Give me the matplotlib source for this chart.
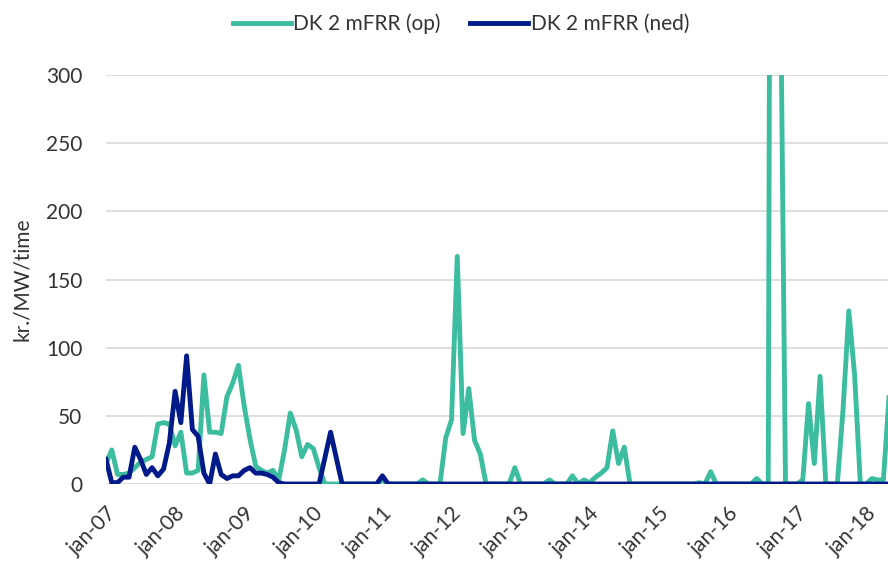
import numpy as np
import matplotlib
matplotlib.use("Agg")
import matplotlib.pyplot as plt

# Prix mensuels DK2 mFRR (kr./MW/time), de jan-07 à mai-18

op = [15, 25, 7, 7, 8, 12, 16, 18, 20, 44, 45, 44,
      28, 38, 8, 8, 10, 80, 38, 38, 37, 64, 74, 87,
      57, 33, 13, 10, 8, 10, 3, 25, 52, 40, 20, 29,
      26, 12, 0, 0, 0, 0, 0, 0, 0, 0, 0, 0,
      3, 0, 0, 0, 0, 0, 0, 3, 0, 0, 0, 34,
      47, 167, 37, 70, 32, 22, 0, 0, 0, 0, 0, 12,
      0, 0, 0, 0, 0, 3, 0, 0, 0, 6, 0, 3,
      1, 5, 8, 12, 39, 15, 27, 0, 0, 0, 0, 0,
      0, 0, 0, 0, 0, 0, 0, 1, 0, 9, 0, 0,
      0, 0, 0, 0, 0, 4, 0, 0, 1500, 430, 0, 0,
      0, 3, 59, 15, 79, 0, 0, 0, 55, 127, 80, 0,
      0, 4, 3, 3, 65]

ned = [18, 1, 1, 5, 5, 27, 18, 7, 12, 6, 11, 30,
       68, 45, 94, 40, 35, 8, 0, 22, 7, 4, 6, 6,
       10, 12, 8, 8, 7, 5, 1, 0, 0, 0, 0, 0,
       0, 0, 19, 38, 19, 0, 0, 0, 0, 0, 0, 0,
       6, 0, 0, 0, 0, 0, 0, 0, 0, 0, 0, 0,
       0, 0, 0, 0, 0, 0, 0, 0, 0, 0, 0, 0,
       0, 0, 0, 0, 0, 0, 0, 0, 0, 0, 0, 0,
       0, 0, 0, 0, 0, 0, 0, 0, 0, 0, 0, 0,
       0, 0, 0, 0, 0, 0, 0, 0, 0, 0, 0, 0,
       0, 0, 0, 0, 0, 0, 0, 0, 0, 0, 0, 0,
       0, 0, 0, 0, 0, 0, 0, 0, 0, 0, 0, 0,
       0, 0, 0, 0, 0]

etiquettes = ["jan-07", "jan-08", "jan-09", "jan-10", "jan-11", "jan-12",
              "jan-13", "jan-14", "jan-15", "jan-16", "jan-17", "jan-18"]

couleur_op = "#3cbda0"
couleur_ned = "#001a8a"

plt.rcParams["font.family"] = ["Lato", "DejaVu Sans"]

fig = plt.figure(figsize=(8.88, 5.64), dpi=100)
ax = fig.add_axes([106 / 888, 80 / 564, 782 / 888, 409 / 564])

mois = np.arange(len(op))
ax.plot(mois, op, color=couleur_op, lw=3.5, label="DK 2 mFRR (op)",
        solid_joinstyle="round")
ax.plot(mois, ned, color=couleur_ned, lw=3.5, label="DK 2 mFRR (ned)",
        solid_joinstyle="round")

ax.set_ylim(0, 300)
ax.set_xlim(0, 135.8)
ax.set_yticks(range(0, 301, 50))
ax.set_xticks(range(0, 12 * len(etiquettes), 12))
ax.set_xticklabels(etiquettes, rotation=45, ha="right",
                   rotation_mode="anchor")

ax.grid(axis="y", color="#d9d9d9", lw=1.2)
ax.set_axisbelow(True)
for s in ax.spines.values():
    s.set_visible(False)

ax.tick_params(axis="y", length=0, pad=17, labelsize=15, labelcolor="#333333")
ax.tick_params(axis="x", length=0, pad=14, labelsize=15, labelcolor="#333333")
ax.set_ylabel("kr./MW/time", fontsize=15, color="#333333", labelpad=10)

fig.legend(loc="center", bbox_to_anchor=(461 / 888, 540 / 564), ncol=2,
           frameon=False, fontsize=15, handlelength=2.8, handletextpad=0.1,
           columnspacing=1.4, labelcolor="#333333")

fig.savefig("out.png", dpi=100)
